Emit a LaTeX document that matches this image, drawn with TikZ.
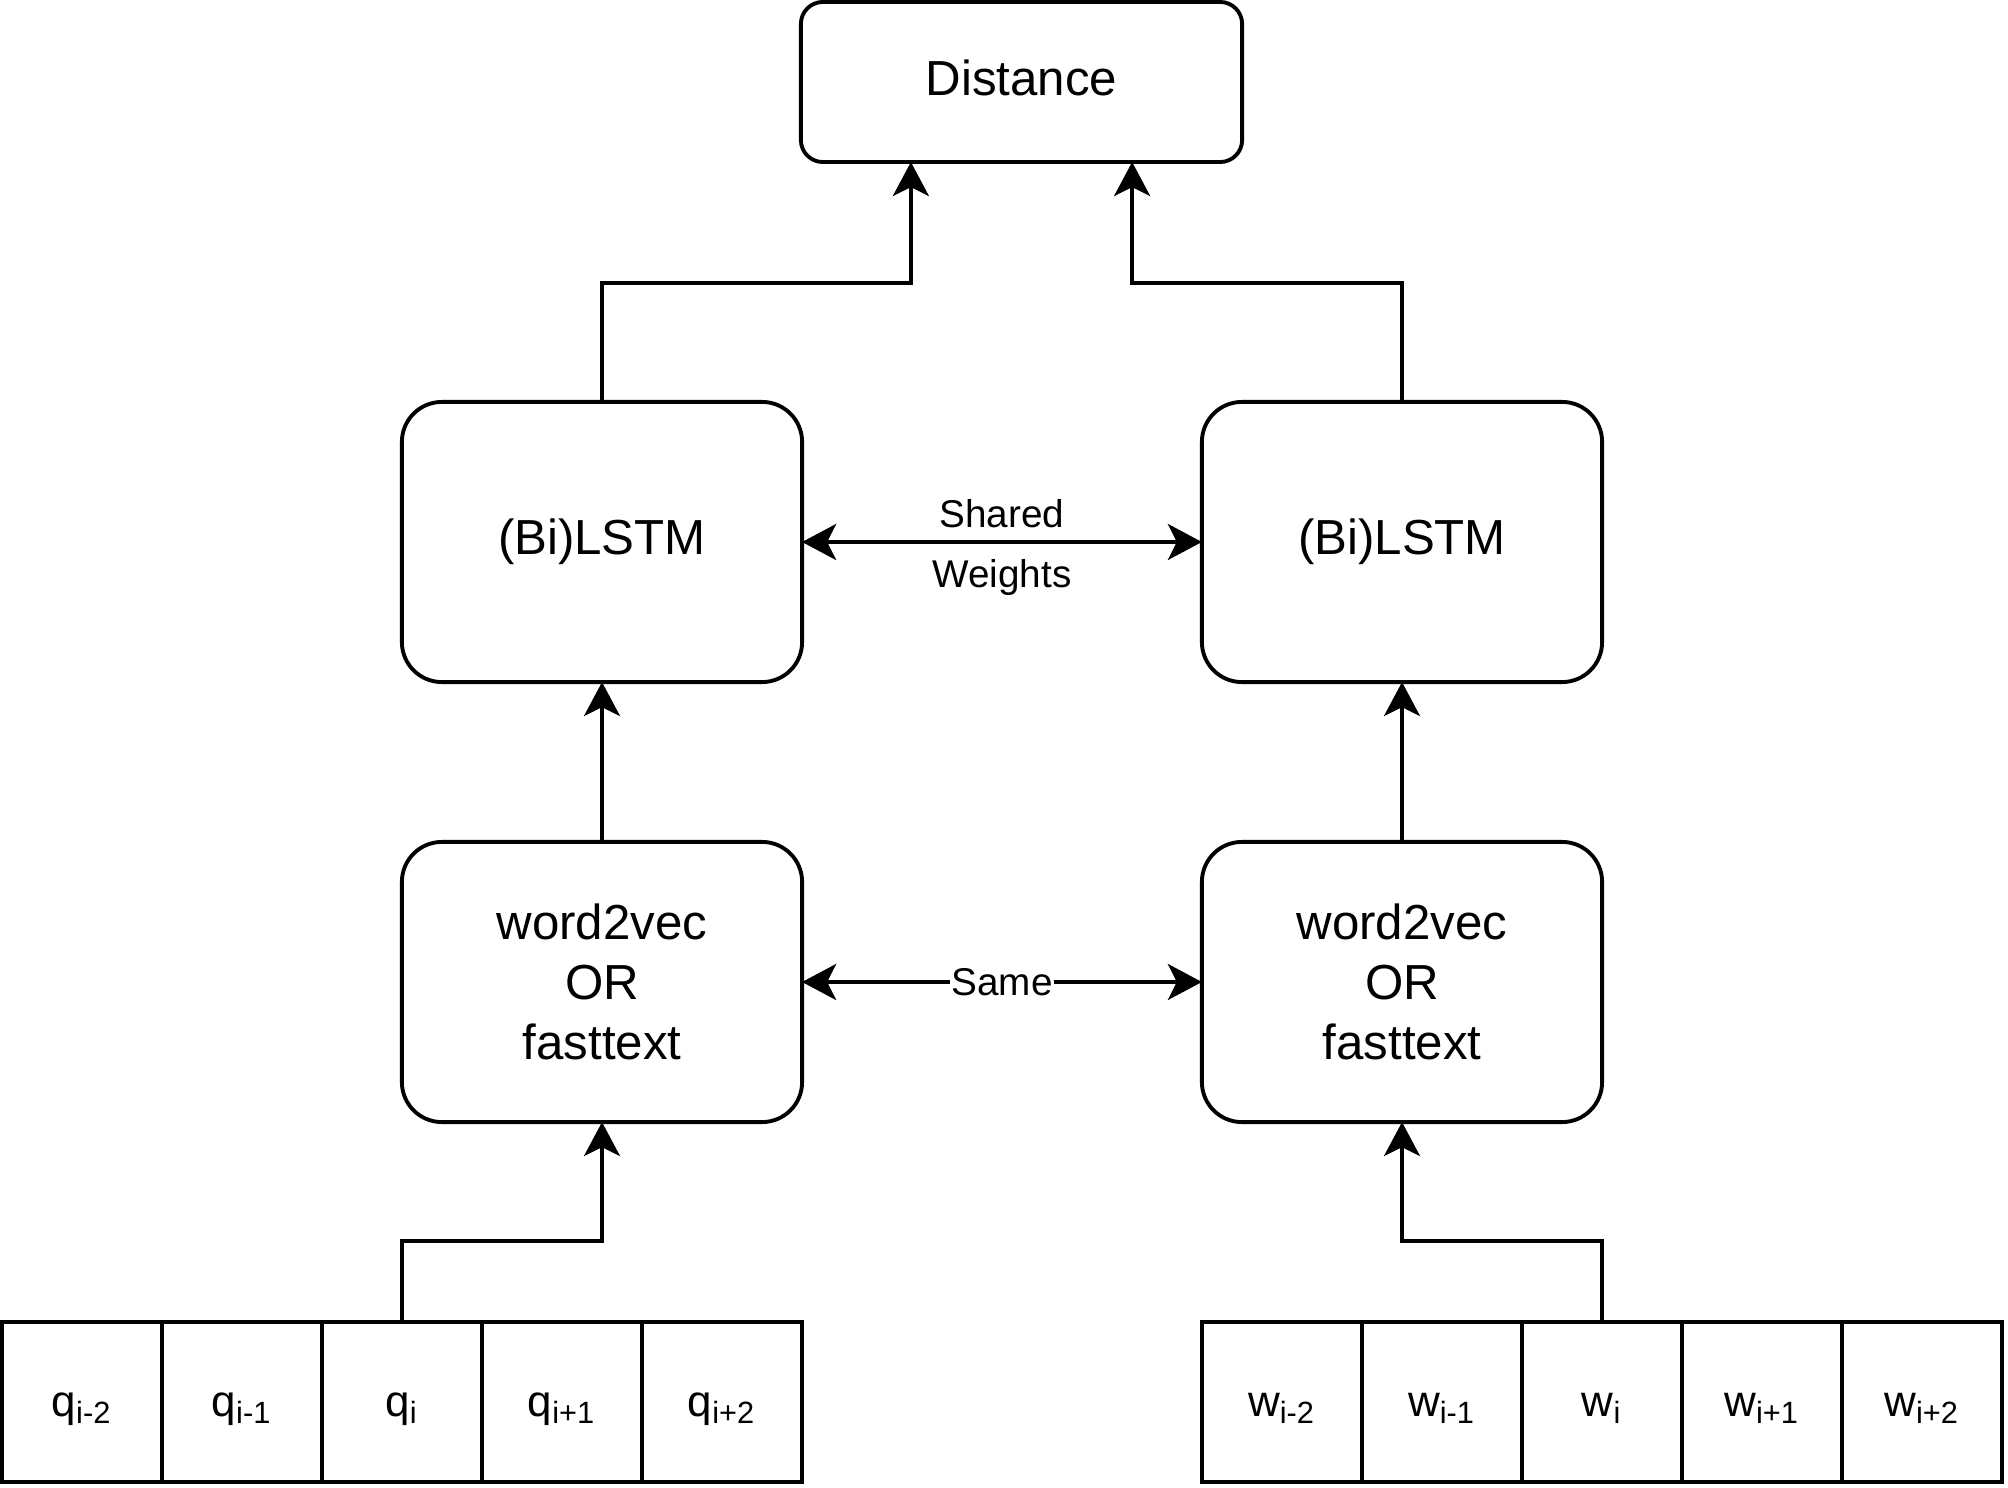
\documentclass[tikz,border=0pt]{standalone}
\usepackage{fontspec}
\setmainfont{Liberation Sans}
\usetikzlibrary{arrows.meta, calc, positioning}
\tikzset{
  block/.style={draw, line width=1.1pt, rounded corners=0.4cm, minimum width=4cm, minimum height=2.8cm,
    align=center, inner sep=0pt, outer sep=0pt, font=\fontsize{14}{17}\selectfont},
  distbox/.style={block, rounded corners=0.22cm, minimum width=4.41cm, minimum height=1.6cm},
  cell/.style={draw, line width=1.1pt, minimum size=1.6cm, inner sep=0pt, outer sep=0pt,
    text height=8pt, text depth=0pt, font=\fontsize{12.5}{15}\selectfont},
  flow/.style={-{Stealth[length=3.4mm, width=3.6mm, inset=0.9mm]}, line width=1.1pt},
  both/.style={{Stealth[length=3.4mm, width=3.6mm, inset=0.9mm]}-{Stealth[length=3.4mm, width=3.6mm, inset=0.9mm]}, line width=1.1pt},
  tag/.style={font=\fontsize{11}{13}\selectfont, inner sep=1pt},
}
\begin{document}
\begin{tikzpicture}[x=0.01cm, y=-0.01cm]
  \useasboundingbox (0,0) rectangle (2008,1488);

  \node[distbox, text height=1.5ex] (dist) at (1021.5,82) {Distance};

  \node[block] (lstmL) at (602,542) {(Bi)LSTM};
  \node[block] (lstmR) at (1402,542) {(Bi)LSTM};

  \node[block] (embL) at (602,982) {word2vec\\OR\\fasttext};
  \node[block] (embR) at (1402,982) {word2vec\\OR\\fasttext};

  % Context windows
  \foreach \i/\s in {1/i-2, 2/i-1, 3/i, 4/i+1, 5/i+2}{
    \node[cell] (q\i) at ({82+160*(\i-1)},1402) {q\textsubscript{\s}};
    \node[cell] (w\i) at ({1282+160*(\i-1)},1402) {w\textsubscript{\s}};
  }

  \draw[flow] (q3.north) -- ++(0,-81) -| (embL.south);
  \draw[flow] (w3.north) -- ++(0,-81) -| (embR.south);

  \draw[flow] (embL) -- (lstmL);
  \draw[flow] (embR) -- (lstmR);

  \draw[flow] (lstmL.north) -- ++(0,-119) -| ($(dist.south west)+(110,0)$);
  \draw[flow] (lstmR.north) -- ++(0,-119) -| ($(dist.south east)+(-110,0)$);

  \draw[both] (lstmL) -- node[tag, above=0.09cm] {Shared} node[tag, below=0.12cm] {Weights} (lstmR);
  \draw[both] (embL) -- node[tag, fill=white, inner sep=0.5pt] {Same} (embR);
\end{tikzpicture}
\end{document}
